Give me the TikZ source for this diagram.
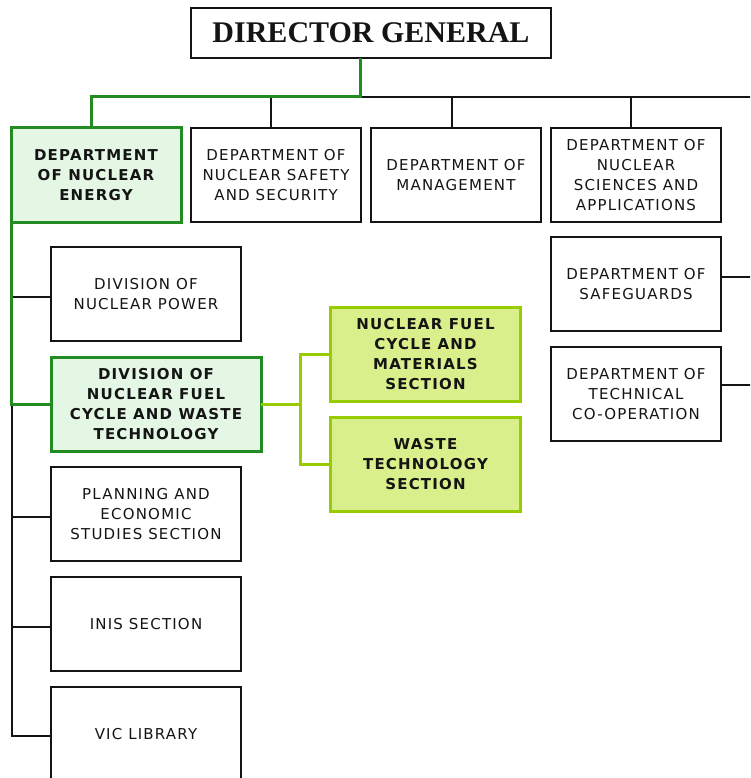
\documentclass[tikz,border=0pt]{standalone}
\usepackage{fontspec}
\newfontfamily\boxfont[LetterSpace=8]{DejaVu Sans}
\newfontfamily\dgfont{Liberation Serif}
\definecolor{dkgreen}{RGB}{34,139,34}
\definecolor{palegreen}{RGB}{228,247,228}
\definecolor{limeline}{RGB}{153,204,0}
\definecolor{limefill}{RGB}{216,239,140}
\definecolor{ink}{RGB}{20,20,20}
\tikzset{
  plain/.style={draw=ink, line width=1.4pt, fill=white, inner sep=0pt, outer sep=0pt, align=center,
    text=ink, font=\boxfont\fontsize{15}{20}\selectfont},
  hinode/.style={plain, draw=dkgreen, line width=3pt, fill=palegreen,
    font=\boxfont\bfseries\fontsize{15}{20}\selectfont},
  limenode/.style={plain, draw=limeline, line width=3pt, fill=limefill,
    font=\boxfont\bfseries\fontsize{15}{20}\selectfont},
  dgnode/.style={plain, font=\dgfont\bfseries\fontsize{30}{32}\selectfont},
  blk/.style={draw=ink, line width=1.4pt},
  grn/.style={draw=dkgreen, line width=3pt},
  lim/.style={draw=limeline, line width=3pt},
}
\begin{document}
\begin{tikzpicture}[x=1pt,y=-1pt]
\useasboundingbox (0,0) rectangle (750,778);
\clip (0,0) rectangle (750,778);

\coordinate (j0) at (360,97);
\coordinate (busR) at (752,97);
\coordinate (lj) at (300,404);

\node[dgnode, minimum width=360pt, minimum height=50pt] (dg) at (371,33) {DIRECTOR GENERAL};

\node[hinode, minimum width=170pt, minimum height=94pt] (dne) at (96,175) {DEPARTMENT\\OF NUCLEAR\\ENERGY};
\node[plain, minimum width=170pt, minimum height=94pt] (dnss) at (276,175) {DEPARTMENT OF\\NUCLEAR SAFETY\\AND SECURITY};
\node[plain, minimum width=170pt, minimum height=94pt] (dm) at (456,175) {DEPARTMENT OF\\MANAGEMENT};
\node[plain, minimum width=170pt, minimum height=94pt] (dnsa) at (636,175) {DEPARTMENT OF\\NUCLEAR\\SCIENCES AND\\APPLICATIONS};
\node[plain, minimum width=170pt, minimum height=94pt] (dsg) at (636,284) {DEPARTMENT OF\\SAFEGUARDS};
\node[plain, minimum width=170pt, minimum height=94pt] (dtc) at (636,394) {DEPARTMENT OF\\TECHNICAL\\CO-OPERATION};

\node[plain, minimum width=190pt, minimum height=94pt] (dnp) at (146,294) {DIVISION OF\\NUCLEAR POWER};
\node[hinode, minimum width=210pt, minimum height=94pt] (dnfc) at (156,404) {DIVISION OF\\NUCLEAR FUEL\\CYCLE AND WASTE\\TECHNOLOGY};
\node[limenode, minimum width=190pt, minimum height=94pt] (nfcm) at (425.5,354.5) {NUCLEAR FUEL\\CYCLE AND\\MATERIALS\\SECTION};
\node[limenode, minimum width=190pt, minimum height=94pt] (wts) at (425.5,464.5) {WASTE\\TECHNOLOGY\\SECTION};
\node[plain, minimum width=190pt, minimum height=94pt] (pes) at (146,514) {PLANNING AND\\ECONOMIC\\STUDIES SECTION};
\node[plain, minimum width=190pt, minimum height=94pt] (inis) at (146,624) {INIS SECTION};
\node[plain, minimum width=190pt, minimum height=94pt] (vic) at (146,734) {VIC LIBRARY};

% top bus
\draw[blk] (j0) -- (busR);
\draw[blk] ([xshift=-5pt]dnss.north) -- ([xshift=-5pt]dnss.north |- j0);
\draw[blk] ([xshift=-4pt]dm.north) -- ([xshift=-4pt]dm.north |- j0);
\draw[blk] ([xshift=-5pt]dnsa.north) -- ([xshift=-5pt]dnsa.north |- j0);
\draw[grn] (dg.south -| j0) -- (j0) -| ([xshift=-5pt]dne.north);

% right side branches
\draw[blk] ([yshift=7pt]dsg.east) -- ([yshift=7pt]dsg.east -| busR);
\draw[blk] ([yshift=9pt]dtc.east) -- ([yshift=9pt]dtc.east -| busR);

% left trunk
\coordinate (tk) at ([xshift=1pt]dne.south west |- dnfc.west);
\coordinate (tkend) at ([yshift=-2pt]vic.west -| tk);
\draw[blk] (tk) -- (tkend) -- ([yshift=-2pt]vic.west);
\draw[blk] ([yshift=-3pt]dnp.west -| tk) -- ([yshift=-3pt]dnp.west);
\draw[blk] ([yshift=-3pt]pes.west -| tk) -- ([yshift=-3pt]pes.west);
\draw[blk] ([yshift=-3pt]inis.west -| tk) -- ([yshift=-3pt]inis.west);
\draw[grn] (dne.south west) -- (dne.south west |- dnfc.west) -- (dnfc.west);

% lime branch
\draw[lim] (dnfc.east) -- (lj);
\draw[lim] (nfcm.west) -| (lj) |- (wts.west);
\end{tikzpicture}
\end{document}
